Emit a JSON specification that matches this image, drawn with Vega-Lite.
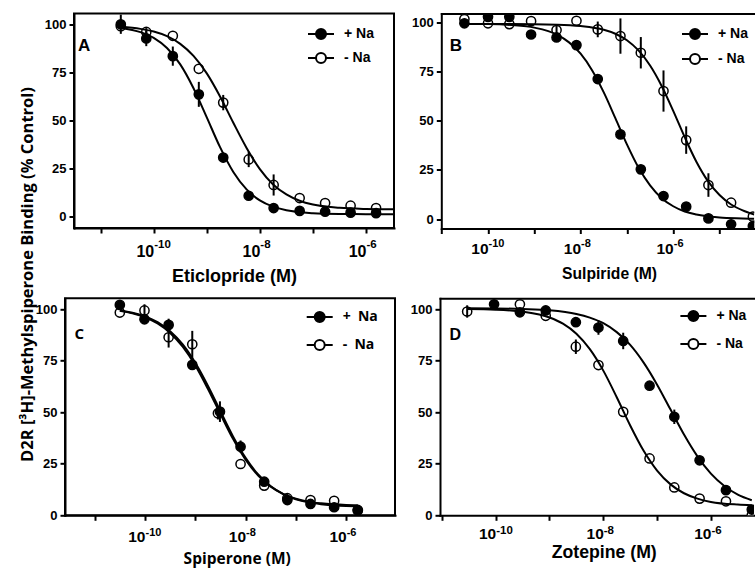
{
  "$schema": "https://vega.github.io/schema/vega-lite/v6.json",
  "padding": {"left": 17, "top": 12.5, "right": 0, "bottom": 0},
  "background": "white",
  "bounds": "flush",
  "spacing": 284.8,
  "resolve": {"scale": {"fill": "independent"}},
  "config": {
    "font": "Liberation Sans",
    "view": {"stroke": null},
    "axis": {"domainColor": "black", "domainWidth": 2, "domainCap": "square", "tickColor": "black", "tickWidth": 2, "tickSize": 5, "labelColor": "black", "titleColor": "black", "grid": false, "labelFont": "Liberation Sans", "labelFontWeight": "bold", "titleFont": "Liberation Sans", "titleFontWeight": "bold", "labelOverlap": false, "labelFlush": false},
    "axisY": {"labelFontSize": 13, "labelPadding": 3},
    "legend": {"orient": "none", "symbolSize": 400, "symbolStrokeColor": "black", "symbolStrokeWidth": 2, "labelFont": "Liberation Sans", "labelFontWeight": "bold", "labelFontSize": 14, "labelColor": "black", "labelOffset": 12, "padding": 0},
    "title": {"color": "black", "fontWeight": "bold"}
  },
  "datasets": {
    "points": [
      {"p":"A","s":"- Na","x":-10.62,"y":99,"e":0},
      {"p":"A","s":"- Na","x":-10.14,"y":96,"e":2},
      {"p":"A","s":"- Na","x":-9.64,"y":94,"e":0},
      {"p":"A","s":"- Na","x":-9.15,"y":76.8,"e":0},
      {"p":"A","s":"- Na","x":-8.69,"y":59.2,"e":4},
      {"p":"A","s":"- Na","x":-8.21,"y":29.6,"e":4},
      {"p":"A","s":"- Na","x":-7.74,"y":16.3,"e":5.5},
      {"p":"A","s":"- Na","x":-7.25,"y":9.5,"e":0},
      {"p":"A","s":"- Na","x":-6.77,"y":6.9,"e":0},
      {"p":"A","s":"- Na","x":-6.29,"y":5.5,"e":0},
      {"p":"A","s":"- Na","x":-5.81,"y":4.3,"e":0},
      {"p":"A","s":"+ Na","x":-10.62,"y":100,"e":5},
      {"p":"A","s":"+ Na","x":-10.14,"y":92.6,"e":4},
      {"p":"A","s":"+ Na","x":-9.64,"y":83.4,"e":5},
      {"p":"A","s":"+ Na","x":-9.15,"y":63.5,"e":6.5},
      {"p":"A","s":"+ Na","x":-8.69,"y":30.6,"e":2.5},
      {"p":"A","s":"+ Na","x":-8.21,"y":10.7,"e":1.5},
      {"p":"A","s":"+ Na","x":-7.74,"y":4.3,"e":0},
      {"p":"A","s":"+ Na","x":-7.25,"y":2.8,"e":0},
      {"p":"A","s":"+ Na","x":-6.77,"y":2.4,"e":0},
      {"p":"A","s":"+ Na","x":-6.29,"y":1.9,"e":0},
      {"p":"A","s":"+ Na","x":-5.81,"y":1.6,"e":0},
      {"p":"B","s":"- Na","x":-10.51,"y":101.9,"e":0},
      {"p":"B","s":"- Na","x":-10.0,"y":99.7,"e":0},
      {"p":"B","s":"- Na","x":-9.54,"y":99.3,"e":0},
      {"p":"B","s":"- Na","x":-9.07,"y":100.8,"e":0},
      {"p":"B","s":"- Na","x":-8.52,"y":96.3,"e":2},
      {"p":"B","s":"- Na","x":-8.09,"y":101,"e":0},
      {"p":"B","s":"- Na","x":-7.63,"y":96.6,"e":4},
      {"p":"B","s":"- Na","x":-7.14,"y":93.2,"e":9},
      {"p":"B","s":"- Na","x":-6.70,"y":84.7,"e":8},
      {"p":"B","s":"- Na","x":-6.21,"y":65.2,"e":10.5},
      {"p":"B","s":"- Na","x":-5.72,"y":40.2,"e":7},
      {"p":"B","s":"- Na","x":-5.24,"y":17.3,"e":6},
      {"p":"B","s":"- Na","x":-4.75,"y":8.3,"e":0},
      {"p":"B","s":"- Na","x":-4.28,"y":1.2,"e":0},
      {"p":"B","s":"+ Na","x":-10.51,"y":99.7,"e":0},
      {"p":"B","s":"+ Na","x":-10.0,"y":103,"e":0},
      {"p":"B","s":"+ Na","x":-9.54,"y":103,"e":0},
      {"p":"B","s":"+ Na","x":-9.07,"y":94,"e":0},
      {"p":"B","s":"+ Na","x":-8.52,"y":92.5,"e":2},
      {"p":"B","s":"+ Na","x":-8.09,"y":88.6,"e":0},
      {"p":"B","s":"+ Na","x":-7.63,"y":71.3,"e":0},
      {"p":"B","s":"+ Na","x":-7.14,"y":43.1,"e":0},
      {"p":"B","s":"+ Na","x":-6.70,"y":25.3,"e":0},
      {"p":"B","s":"+ Na","x":-6.21,"y":11.7,"e":0},
      {"p":"B","s":"+ Na","x":-5.72,"y":6.3,"e":0},
      {"p":"B","s":"+ Na","x":-5.24,"y":0.3,"e":0},
      {"p":"B","s":"+ Na","x":-4.75,"y":-2.7,"e":0},
      {"p":"B","s":"+ Na","x":-4.28,"y":-3.6,"e":0},
      {"p":"C","s":"- Na","x":-10.50,"y":98.4,"e":0},
      {"p":"C","s":"- Na","x":-10.01,"y":99.4,"e":3},
      {"p":"C","s":"- Na","x":-9.53,"y":86.4,"e":5},
      {"p":"C","s":"- Na","x":-9.06,"y":83.0,"e":6.5},
      {"p":"C","s":"- Na","x":-8.55,"y":49.5,"e":3},
      {"p":"C","s":"- Na","x":-8.10,"y":24.9,"e":0},
      {"p":"C","s":"- Na","x":-7.63,"y":14.4,"e":0},
      {"p":"C","s":"- Na","x":-7.17,"y":8.3,"e":2},
      {"p":"C","s":"- Na","x":-6.71,"y":7.4,"e":0},
      {"p":"C","s":"- Na","x":-6.24,"y":7.0,"e":0},
      {"p":"C","s":"- Na","x":-5.77,"y":2.6,"e":0},
      {"p":"C","s":"+ Na","x":-10.50,"y":102.1,"e":2},
      {"p":"C","s":"+ Na","x":-10.01,"y":95.1,"e":0},
      {"p":"C","s":"+ Na","x":-9.53,"y":92.4,"e":3},
      {"p":"C","s":"+ Na","x":-9.06,"y":73.0,"e":2},
      {"p":"C","s":"+ Na","x":-8.51,"y":50.3,"e":5},
      {"p":"C","s":"+ Na","x":-8.10,"y":33.3,"e":3},
      {"p":"C","s":"+ Na","x":-7.63,"y":16.3,"e":2},
      {"p":"C","s":"+ Na","x":-7.17,"y":7.4,"e":0},
      {"p":"C","s":"+ Na","x":-6.71,"y":5.5,"e":0},
      {"p":"C","s":"+ Na","x":-6.24,"y":3.9,"e":0},
      {"p":"C","s":"+ Na","x":-5.77,"y":2.3,"e":0},
      {"p":"D","s":"- Na","x":-10.53,"y":98.9,"e":3},
      {"p":"D","s":"- Na","x":-9.55,"y":102.4,"e":0},
      {"p":"D","s":"- Na","x":-9.07,"y":96.8,"e":0},
      {"p":"D","s":"- Na","x":-8.51,"y":81.8,"e":3.5},
      {"p":"D","s":"- Na","x":-8.09,"y":72.9,"e":0},
      {"p":"D","s":"- Na","x":-7.63,"y":50.2,"e":0},
      {"p":"D","s":"- Na","x":-7.14,"y":27.6,"e":0},
      {"p":"D","s":"- Na","x":-6.68,"y":13.5,"e":0},
      {"p":"D","s":"- Na","x":-6.21,"y":8.1,"e":0},
      {"p":"D","s":"- Na","x":-5.72,"y":6.8,"e":0},
      {"p":"D","s":"- Na","x":-5.24,"y":0,"e":0},
      {"p":"D","s":"+ Na","x":-10.03,"y":102.4,"e":0},
      {"p":"D","s":"+ Na","x":-9.55,"y":98.5,"e":0},
      {"p":"D","s":"+ Na","x":-9.07,"y":99.4,"e":2},
      {"p":"D","s":"+ Na","x":-8.51,"y":93.7,"e":0},
      {"p":"D","s":"+ Na","x":-8.09,"y":91.1,"e":3.5},
      {"p":"D","s":"+ Na","x":-7.63,"y":84.6,"e":4},
      {"p":"D","s":"+ Na","x":-7.14,"y":62.9,"e":0},
      {"p":"D","s":"+ Na","x":-6.68,"y":47.8,"e":3.5},
      {"p":"D","s":"+ Na","x":-6.21,"y":26.7,"e":0},
      {"p":"D","s":"+ Na","x":-5.72,"y":12.2,"e":0},
      {"p":"D","s":"+ Na","x":-5.24,"y":2.8,"e":0}
    ],
    "curves": [
      {"p":"A","s":"+ Na","x":-10.62,"y":98.1},{"p":"A","s":"+ Na","x":-10.25,"y":95.9},{"p":"A","s":"+ Na","x":-10.0,"y":92.9},{"p":"A","s":"+ Na","x":-9.75,"y":87.6},{"p":"A","s":"+ Na","x":-9.5,"y":79.1},{"p":"A","s":"+ Na","x":-9.25,"y":66.7},{"p":"A","s":"+ Na","x":-9.0,"y":51.5},{"p":"A","s":"+ Na","x":-8.75,"y":36.0},{"p":"A","s":"+ Na","x":-8.5,"y":23.1},{"p":"A","s":"+ Na","x":-8.25,"y":14.0},{"p":"A","s":"+ Na","x":-8.0,"y":8.3},{"p":"A","s":"+ Na","x":-7.75,"y":5.0},{"p":"A","s":"+ Na","x":-7.5,"y":3.1},{"p":"A","s":"+ Na","x":-7.0,"y":1.6},{"p":"A","s":"+ Na","x":-6.5,"y":1.2},{"p":"A","s":"+ Na","x":-6.0,"y":1.1},{"p":"A","s":"+ Na","x":-5.47,"y":1.0},
      {"p":"A","s":"- Na","x":-10.62,"y":98.7},{"p":"A","s":"- Na","x":-10.25,"y":97.6},{"p":"A","s":"- Na","x":-10.0,"y":96.2},{"p":"A","s":"- Na","x":-9.75,"y":93.8},{"p":"A","s":"- Na","x":-9.5,"y":89.8},{"p":"A","s":"- Na","x":-9.25,"y":83.5},{"p":"A","s":"- Na","x":-9.0,"y":74.4},{"p":"A","s":"- Na","x":-8.75,"y":62.4},{"p":"A","s":"- Na","x":-8.5,"y":48.7},{"p":"A","s":"- Na","x":-8.25,"y":35.6},{"p":"A","s":"- Na","x":-8.0,"y":24.6},{"p":"A","s":"- Na","x":-7.75,"y":16.6},{"p":"A","s":"- Na","x":-7.5,"y":11.4},{"p":"A","s":"- Na","x":-7.25,"y":8.1},{"p":"A","s":"- Na","x":-7.0,"y":6.1},{"p":"A","s":"- Na","x":-6.5,"y":4.4},{"p":"A","s":"- Na","x":-6.0,"y":3.8},{"p":"A","s":"- Na","x":-5.47,"y":3.6},
      {"p":"B","s":"+ Na","x":-10.51,"y":99.4},{"p":"B","s":"+ Na","x":-10.0,"y":99.3},{"p":"B","s":"+ Na","x":-9.5,"y":98.8},{"p":"B","s":"+ Na","x":-9.0,"y":97.5},{"p":"B","s":"+ Na","x":-8.5,"y":93.8},{"p":"B","s":"+ Na","x":-8.25,"y":90.0},{"p":"B","s":"+ Na","x":-8.0,"y":84.2},{"p":"B","s":"+ Na","x":-7.75,"y":75.7},{"p":"B","s":"+ Na","x":-7.5,"y":64.5},{"p":"B","s":"+ Na","x":-7.25,"y":51.4},{"p":"B","s":"+ Na","x":-7.0,"y":38.0},{"p":"B","s":"+ Na","x":-6.75,"y":26.2},{"p":"B","s":"+ Na","x":-6.5,"y":17.1},{"p":"B","s":"+ Na","x":-6.25,"y":10.6},{"p":"B","s":"+ Na","x":-6.0,"y":6.5},{"p":"B","s":"+ Na","x":-5.75,"y":3.8},{"p":"B","s":"+ Na","x":-5.5,"y":2.3},{"p":"B","s":"+ Na","x":-5.0,"y":0.8},{"p":"B","s":"+ Na","x":-4.5,"y":0.3},{"p":"B","s":"+ Na","x":-4.25,"y":0.1},
      {"p":"B","s":"- Na","x":-10.51,"y":99.3},{"p":"B","s":"- Na","x":-9.5,"y":99.3},{"p":"B","s":"- Na","x":-8.5,"y":99.0},{"p":"B","s":"- Na","x":-8.0,"y":98.3},{"p":"B","s":"- Na","x":-7.5,"y":96.4},{"p":"B","s":"- Na","x":-7.25,"y":94.4},{"p":"B","s":"- Na","x":-7.0,"y":91.1},{"p":"B","s":"- Na","x":-6.75,"y":85.9},{"p":"B","s":"- Na","x":-6.5,"y":78.2},{"p":"B","s":"- Na","x":-6.25,"y":67.8},{"p":"B","s":"- Na","x":-6.0,"y":55.1},{"p":"B","s":"- Na","x":-5.75,"y":41.6},{"p":"B","s":"- Na","x":-5.5,"y":29.2},{"p":"B","s":"- Na","x":-5.25,"y":19.3},{"p":"B","s":"- Na","x":-5.0,"y":12.2},{"p":"B","s":"- Na","x":-4.75,"y":7.4},{"p":"B","s":"- Na","x":-4.5,"y":4.4},{"p":"B","s":"- Na","x":-4.25,"y":2.3},
      {"p":"C","s":"+ Na","x":-10.5,"y":99.4},{"p":"C","s":"+ Na","x":-10.25,"y":98.3},{"p":"C","s":"+ Na","x":-10.0,"y":96.5},{"p":"C","s":"+ Na","x":-9.75,"y":93.7},{"p":"C","s":"+ Na","x":-9.5,"y":89.3},{"p":"C","s":"+ Na","x":-9.25,"y":82.9},{"p":"C","s":"+ Na","x":-9.0,"y":74.0},{"p":"C","s":"+ Na","x":-8.75,"y":62.9},{"p":"C","s":"+ Na","x":-8.5,"y":50.5},{"p":"C","s":"+ Na","x":-8.25,"y":38.3},{"p":"C","s":"+ Na","x":-8.0,"y":27.9},{"p":"C","s":"+ Na","x":-7.75,"y":19.8},{"p":"C","s":"+ Na","x":-7.5,"y":14.1},{"p":"C","s":"+ Na","x":-7.25,"y":10.3},{"p":"C","s":"+ Na","x":-7.0,"y":7.8},{"p":"C","s":"+ Na","x":-6.75,"y":6.3},{"p":"C","s":"+ Na","x":-6.5,"y":5.4},{"p":"C","s":"+ Na","x":-6.0,"y":4.5},{"p":"C","s":"+ Na","x":-5.77,"y":4.4},
      {"p":"C","s":"- Na","x":-10.5,"y":99.2},{"p":"C","s":"- Na","x":-10.25,"y":98.0},{"p":"C","s":"- Na","x":-10.0,"y":96.1},{"p":"C","s":"- Na","x":-9.75,"y":93.1},{"p":"C","s":"- Na","x":-9.5,"y":88.5},{"p":"C","s":"- Na","x":-9.25,"y":81.8},{"p":"C","s":"- Na","x":-9.0,"y":72.7},{"p":"C","s":"- Na","x":-8.75,"y":61.4},{"p":"C","s":"- Na","x":-8.5,"y":49.1},{"p":"C","s":"- Na","x":-8.25,"y":37.1},{"p":"C","s":"- Na","x":-8.0,"y":27.0},{"p":"C","s":"- Na","x":-7.75,"y":19.3},{"p":"C","s":"- Na","x":-7.5,"y":13.9},{"p":"C","s":"- Na","x":-7.25,"y":10.3},{"p":"C","s":"- Na","x":-7.0,"y":8.0},{"p":"C","s":"- Na","x":-6.75,"y":6.6},{"p":"C","s":"- Na","x":-6.5,"y":5.8},{"p":"C","s":"- Na","x":-6.0,"y":5.0},{"p":"C","s":"- Na","x":-5.77,"y":4.9},
      {"p":"D","s":"+ Na","x":-10.53,"y":100.5},{"p":"D","s":"+ Na","x":-10.0,"y":100.4},{"p":"D","s":"+ Na","x":-9.5,"y":100.1},{"p":"D","s":"+ Na","x":-9.0,"y":99.5},{"p":"D","s":"+ Na","x":-8.5,"y":97.7},{"p":"D","s":"+ Na","x":-8.25,"y":95.9},{"p":"D","s":"+ Na","x":-8.0,"y":93.2},{"p":"D","s":"+ Na","x":-7.75,"y":88.9},{"p":"D","s":"+ Na","x":-7.5,"y":82.7},{"p":"D","s":"+ Na","x":-7.25,"y":74.1},{"p":"D","s":"+ Na","x":-7.0,"y":63.4},{"p":"D","s":"+ Na","x":-6.75,"y":51.3},{"p":"D","s":"+ Na","x":-6.5,"y":39.2},{"p":"D","s":"+ Na","x":-6.25,"y":28.6},{"p":"D","s":"+ Na","x":-6.0,"y":20.2},{"p":"D","s":"+ Na","x":-5.75,"y":14.2},{"p":"D","s":"+ Na","x":-5.5,"y":10.0},{"p":"D","s":"+ Na","x":-5.24,"y":7.3},
      {"p":"D","s":"- Na","x":-10.53,"y":100.1},{"p":"D","s":"- Na","x":-10.0,"y":99.8},{"p":"D","s":"- Na","x":-9.5,"y":98.8},{"p":"D","s":"- Na","x":-9.0,"y":96.0},{"p":"D","s":"- Na","x":-8.75,"y":93.0},{"p":"D","s":"- Na","x":-8.5,"y":88.1},{"p":"D","s":"- Na","x":-8.25,"y":80.6},{"p":"D","s":"- Na","x":-8.0,"y":70.2},{"p":"D","s":"- Na","x":-7.75,"y":57.3},{"p":"D","s":"- Na","x":-7.5,"y":43.6},{"p":"D","s":"- Na","x":-7.25,"y":31.3},{"p":"D","s":"- Na","x":-7.0,"y":21.7},{"p":"D","s":"- Na","x":-6.75,"y":15.0},{"p":"D","s":"- Na","x":-6.5,"y":10.7},{"p":"D","s":"- Na","x":-6.25,"y":8.1},{"p":"D","s":"- Na","x":-6.0,"y":6.5},{"p":"D","s":"- Na","x":-5.5,"y":5.2},{"p":"D","s":"- Na","x":-5.24,"y":4.9}
    ]
  },
  "vconcat": [
    {
      "hconcat": [
        {"width": 8.7, "height": 215, "data": {"values": []}, "mark": "point", "view": {"stroke": null}},
        {
          "hconcat": [
            {
              "width": 320, "height": 214.5,
              "view": {"stroke": "black", "strokeWidth": 2},
              "title": {"text": "A", "anchor": "start", "frame": "group", "offset": -54.5, "dx": 4, "baseline": "alphabetic", "fontSize": 17, "font": "Liberation Sans", "fontWeight": "bold", "color": "black"},
              "resolve": {"axis": {"x": "independent"}},
              "encoding": {
                "x": {"field": "x", "type": "quantitative", "scale": {"domain": [-11.502, -5.472], "nice": false, "zero": false},
                      "axis": {"orient": "bottom", "values": [-11, -10, -9, -8, -7, -6], "labelExpr": "datum.value % 2 == 0 ? '10' : ''", "labelFontSize": 16, "labelBaseline": "alphabetic", "labelAlign": "right", "labelDx": -1.5, "labelPadding": 23.7, "title": "Eticlopride (M)", "titleX": 160, "titleY": 53, "titleBaseline": "alphabetic", "titleFontSize": 18}},
                "y": {"field": "y", "type": "quantitative", "scale": {"domain": [-6.1, 105.6], "nice": false, "zero": false},
                      "axis": {"values": [0, 25, 50, 75, 100], "title": "D2R [³H]-Methylspiperone Binding (% Control)", "titleFont": "Open Sans", "titleFontSize": 16.5, "titleX": -47, "titleY": 260.5, "titleAngle": 270, "titleBaseline": "middle", "titleAlign": "center"}}
              },
              "layer": [
                {"data": {"name": "points"}, "transform": [{"filter": "datum.p == 'A'"}],
                 "mark": {"type": "point", "shape": "circle", "filled": true, "size": 85, "stroke": "black", "strokeWidth": 1.5, "opacity": 1},
                 "encoding": {
                   "fill": {"field": "s", "type": "nominal", "scale": {"domain": ["+ Na", "- Na"], "range": ["black", "white"]},
                            "legend": {"title": null, "legendX": 236, "legendY": 9.5, "rowPadding": 4, "symbolType": "M-1.3,0H-0.5M0.5,0H1.3M-0.5,0A0.5,0.5,0,1,1,0.5,0A0.5,0.5,0,1,1,-0.5,0Z"}}
                 }},
                {"data": {"name": "points"}, "transform": [{"filter": "datum.p == 'A'"}],
                 "mark": {"type": "errorbar", "ticks": false, "thickness": 2, "color": "black"},
                 "encoding": {
                   "x": {"field": "x", "type": "quantitative", "scale": {"domain": [-11.502, -5.472], "nice": false, "zero": false},
                         "axis": {"orient": "bottom", "values": [-10, -8, -6], "labelExpr": "'-' + (-datum.value)", "labelFontSize": 11.5, "labelBaseline": "alphabetic", "labelAlign": "left", "labelDx": 1, "labelPadding": 14.5, "tickOpacity": 0, "domain": false, "title": null}},
                   "yError": {"field": "e"}}},
                {"data": {"name": "curves"}, "transform": [{"filter": "datum.p == 'A'"}],
                 "mark": {"type": "line", "stroke": "black", "strokeWidth": 2, "interpolate": "monotone"},
                 "encoding": {
                   "x": {"field": "x", "type": "quantitative", "scale": {"domain": [-11.502, -5.472], "nice": false, "zero": false}, "axis": null},
                   "detail": {"field": "s", "type": "nominal"}}}
              ]
            },
            {
              "width": 313, "height": 215,
              "view": {"stroke": null},
              "title": {"text": "B", "anchor": "start", "frame": "group", "offset": -54.5, "dx": 8.4, "baseline": "alphabetic", "fontSize": 17, "font": "Liberation Sans", "fontWeight": "bold", "color": "black"},
              "resolve": {"axis": {"x": "independent"}},
              "encoding": {
                "x": {"field": "x", "type": "quantitative", "scale": {"domain": [-11.009, -4.249], "nice": false, "zero": false},
                      "axis": {"orient": "bottom", "values": [-11, -10, -9, -8, -7, -6, -5], "labelExpr": "datum.value % 2 == 0 ? '10' : ''", "labelFontSize": 15.5, "labelBaseline": "alphabetic", "labelAlign": "right", "labelDx": -1, "labelPadding": 19.8, "title": "Sulpiride (M)", "titleX": 167.7, "titleY": 49.5, "titleBaseline": "alphabetic", "titleFontSize": 15.7}},
                "y": {"field": "y", "type": "quantitative", "scale": {"domain": [-4.84, 104.7], "nice": false, "zero": false}, "axis": {"values": [0, 25, 50, 75, 100], "title": null}}
              },
              "layer": [
                {"data": {"name": "points"}, "transform": [{"filter": "datum.p == 'B'"}],
                 "mark": {"type": "point", "shape": "circle", "filled": true, "size": 85, "stroke": "black", "strokeWidth": 1.5, "opacity": 1, "clip": true},
                 "encoding": {
                   "fill": {"field": "s", "type": "nominal", "scale": {"domain": ["+ Na", "- Na"], "range": ["black", "white"]},
                            "legend": {"title": null, "legendX": 242.7, "legendY": 9.5, "rowPadding": 5, "symbolType": "M-1.3,0H-0.5M0.5,0H1.3M-0.5,0A0.5,0.5,0,1,1,0.5,0A0.5,0.5,0,1,1,-0.5,0Z"}}
                 }},
                {"data": {"name": "points"}, "transform": [{"filter": "datum.p == 'B'"}],
                 "mark": {"type": "errorbar", "ticks": false, "thickness": 2, "color": "black"},
                 "encoding": {
                   "x": {"field": "x", "type": "quantitative", "scale": {"domain": [-11.009, -4.249], "nice": false, "zero": false},
                         "axis": {"orient": "bottom", "values": [-10, -8, -6], "labelExpr": "'-' + (-datum.value)", "labelFontSize": 11, "labelBaseline": "alphabetic", "labelAlign": "left", "labelDx": 1.5, "labelPadding": 13.2, "tickOpacity": 0, "domain": false, "title": null}},
                   "yError": {"field": "e"}}},
                {"data": {"name": "curves"}, "transform": [{"filter": "datum.p == 'B'"}],
                 "mark": {"type": "line", "stroke": "black", "strokeWidth": 2, "interpolate": "monotone", "clip": true},
                 "encoding": {
                   "x": {"field": "x", "type": "quantitative", "scale": {"domain": [-11.009, -4.249], "nice": false, "zero": false}, "axis": {"orient": "top", "labels": false, "ticks": false, "title": null, "domain": true}},
                   "detail": {"field": "s", "type": "nominal"}
                 }}
              ]
            }
          ],
          "spacing": 47.3,
          "bounds": "flush",
          "resolve": {"scale": {"fill": "independent"}}
        }
      ],
      "spacing": 0,
      "bounds": "flush",
      "resolve": {"scale": {"fill": "independent"}}
    },
    {
      "hconcat": [
        {
          "width": 330, "height": 217,
          "view": {"stroke": "black", "strokeWidth": 2},
          "title": {"text": "C", "anchor": "start", "frame": "group", "offset": -56.4, "dx": 9.4, "baseline": "alphabetic", "fontSize": 15, "font": "Open Sans", "fontWeight": "bold", "color": "black"},
          "resolve": {"axis": {"x": "independent"}},
          "encoding": {
            "x": {"field": "x", "type": "quantitative", "scale": {"domain": [-11.59, -5.03], "nice": false, "zero": false},
                  "axis": {"orient": "bottom", "values": [-11, -10, -9, -8, -7, -6], "labelExpr": "datum.value % 2 == 0 ? '10' : ''", "labelFontSize": 15.5, "labelBaseline": "alphabetic", "labelAlign": "right", "labelDx": -1.5, "labelPadding": 21.4, "title": "Spiperone (M)", "titleFont": "Open Sans", "titleX": 171.7, "titleY": 47.7, "titleBaseline": "alphabetic", "titleFontSize": 15.5}},
            "y": {"field": "y", "type": "quantitative", "scale": {"domain": [0, 105.3], "nice": false, "zero": false}, "axis": {"values": [0, 25, 50, 75, 100], "title": null}}
          },
          "layer": [
            {"data": {"name": "points"}, "transform": [{"filter": "datum.p == 'C'"}],
             "mark": {"type": "point", "shape": "circle", "filled": true, "size": 85, "stroke": "black", "strokeWidth": 1.5, "opacity": 1},
             "encoding": {
               "fill": {"field": "s", "type": "nominal", "scale": {"domain": ["+ Na", "- Na"], "range": ["black", "white"]},
                        "legend": {"title": null, "legendX": 243.7, "legendY": 7.7, "rowPadding": 8, "labelFont": "Open Sans", "labelExpr": "datum.label == '+ Na' ? '+\u00a0\u00a0Na' : '-\u00a0\u00a0Na'", "symbolType": "M-1.3,0H-0.5M0.5,0H1.3M-0.5,0A0.5,0.5,0,1,1,0.5,0A0.5,0.5,0,1,1,-0.5,0Z"}}
             }},
            {"data": {"name": "points"}, "transform": [{"filter": "datum.p == 'C'"}],
             "mark": {"type": "errorbar", "ticks": false, "thickness": 2, "color": "black"},
             "encoding": {
               "x": {"field": "x", "type": "quantitative", "scale": {"domain": [-11.59, -5.03], "nice": false, "zero": false},
                     "axis": {"orient": "bottom", "values": [-10, -8, -6], "labelExpr": "'-' + (-datum.value)", "labelFontSize": 11, "labelBaseline": "alphabetic", "labelAlign": "left", "labelDx": 1, "labelPadding": 14.7, "tickOpacity": 0, "domain": false, "title": null}},
               "yError": {"field": "e"}}},
            {"data": {"name": "curves"}, "transform": [{"filter": "datum.p == 'C'"}],
             "mark": {"type": "line", "stroke": "black", "strokeWidth": 2, "interpolate": "monotone"},
             "encoding": {
               "x": {"field": "x", "type": "quantitative", "scale": {"domain": [-11.59, -5.03], "nice": false, "zero": false}, "axis": null},
               "detail": {"field": "s", "type": "nominal"}}}
          ]
        },
        {
          "width": 314, "height": 217,
          "view": {"stroke": null},
          "title": {"text": "D", "anchor": "start", "frame": "group", "offset": -57.4, "dx": 9.4, "baseline": "alphabetic", "fontSize": 16, "font": "Liberation Sans", "fontWeight": "bold", "color": "black"},
          "resolve": {"axis": {"x": "independent"}},
          "encoding": {
            "x": {"field": "x", "type": "quantitative", "scale": {"domain": [-11.035, -5.199], "nice": false, "zero": false},
                  "axis": {"orient": "bottom", "values": [-11, -10, -9, -8, -7, -6], "labelExpr": "datum.value % 2 == 0 ? '10' : ''", "labelFontSize": 15.5, "labelBaseline": "alphabetic", "labelAlign": "right", "labelDx": -1.5, "labelPadding": 18.3, "title": "Zotepine (M)", "titleX": 163.7, "titleY": 41.7, "titleBaseline": "alphabetic", "titleFontSize": 17.7}},
            "y": {"field": "y", "type": "quantitative", "scale": {"domain": [0, 105.3], "nice": false, "zero": false}, "axis": {"values": [0, 25, 50, 75, 100], "title": null}}
          },
          "layer": [
            {"data": {"name": "points"}, "transform": [{"filter": "datum.p == 'D'"}],
             "mark": {"type": "point", "shape": "circle", "filled": true, "size": 85, "stroke": "black", "strokeWidth": 1.5, "opacity": 1, "clip": true},
             "encoding": {
               "fill": {"field": "s", "type": "nominal", "scale": {"domain": ["+ Na", "- Na"], "range": ["black", "white"]},
                        "legend": {"title": null, "legendX": 242.4, "legendY": 6.7, "rowPadding": 8, "symbolType": "M-1.3,0H-0.5M0.5,0H1.3M-0.5,0A0.5,0.5,0,1,1,0.5,0A0.5,0.5,0,1,1,-0.5,0Z"}}
             }},
            {"data": {"name": "points"}, "transform": [{"filter": "datum.p == 'D'"}],
             "mark": {"type": "errorbar", "ticks": false, "thickness": 2, "color": "black"},
             "encoding": {
               "x": {"field": "x", "type": "quantitative", "scale": {"domain": [-11.035, -5.199], "nice": false, "zero": false},
                     "axis": {"orient": "bottom", "values": [-10, -8, -6], "labelExpr": "'-' + (-datum.value)", "labelFontSize": 11.5, "labelBaseline": "alphabetic", "labelAlign": "left", "labelDx": 1, "labelPadding": 13.3, "tickOpacity": 0, "domain": false, "title": null}},
               "yError": {"field": "e"}}},
            {"data": {"name": "curves"}, "transform": [{"filter": "datum.p == 'D'"}],
             "mark": {"type": "line", "stroke": "black", "strokeWidth": 2, "interpolate": "monotone", "clip": true},
             "encoding": {
               "x": {"field": "x", "type": "quantitative", "scale": {"domain": [-11.035, -5.199], "nice": false, "zero": false}, "axis": {"orient": "top", "labels": false, "ticks": false, "title": null, "domain": true}},
               "detail": {"field": "s", "type": "nominal"}
             }}
          ]
        }
      ],
      "spacing": 45,
      "bounds": "flush",
      "resolve": {"scale": {"fill": "independent"}}
    }
  ]
}
